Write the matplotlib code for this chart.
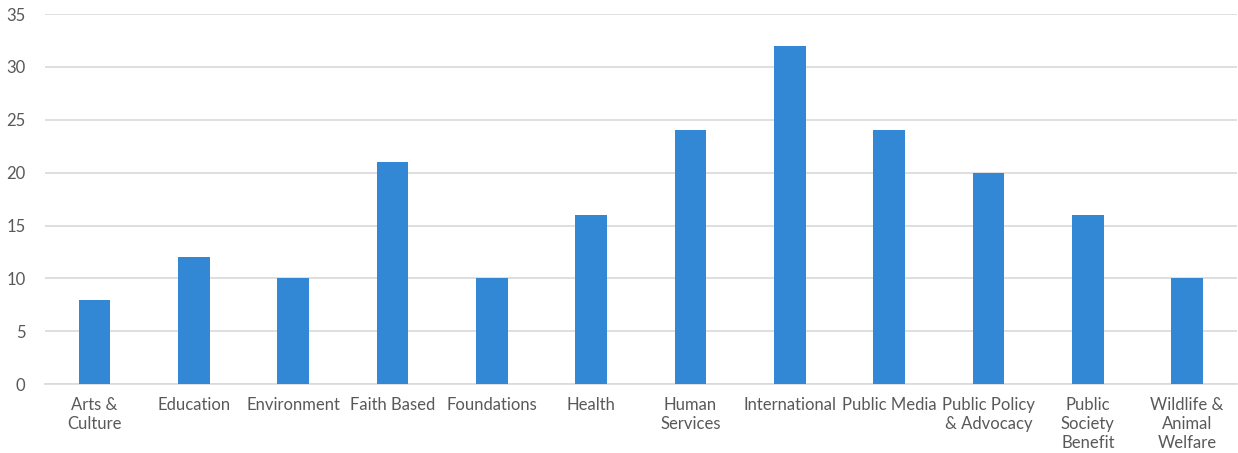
import matplotlib
matplotlib.use('Agg')
import matplotlib.pyplot as plt

categories = ['Arts &\nCulture', 'Education', 'Environment', 'Faith Based', 'Foundations',
              'Health', 'Human\nServices', 'International', 'Public Media',
              'Public Policy\n& Advocacy', 'Public\nSociety\nBenefit', 'Wildlife &\nAnimal\nWelfare']
values = [8, 12, 10, 21, 10, 16, 24, 32, 24, 20, 16, 10]
yticks = [0, 5, 10, 15, 20, 25, 30, 35]

plt.rcParams['font.family'] = ['Lato', 'DejaVu Sans']

fig = plt.figure(figsize=(12.38, 4.53), dpi=100)
ax = fig.add_axes([0.0363, 0.152, 0.9627, 0.817])

ax.bar(range(len(values)), values, width=0.32, color='#3388D6', zorder=3)
ax.set_xlim(-0.5, len(values) - 0.5)
ax.set_ylim(0, 35)
ax.set_yticks(yticks)
ax.set_xticks(range(len(values)))
ax.set_xticklabels(categories, fontsize=12, color='#595959', linespacing=1.25)
ax.tick_params(axis='y', labelsize=12, labelcolor='#595959', length=0, pad=14)
ax.tick_params(axis='x', length=0, pad=9)
ax.grid(axis='y', color='#D9D9D9', linewidth=1.2, zorder=0)
for s in ['top', 'right', 'left']:
    ax.spines[s].set_visible(False)
ax.spines['bottom'].set_color('#D9D9D9')
ax.spines['bottom'].set_linewidth(1.2)

fig.savefig('out.png', dpi=100)
